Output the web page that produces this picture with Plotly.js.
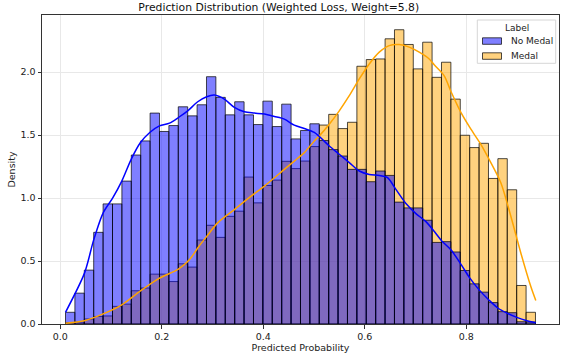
<!DOCTYPE html>
<html><head><meta charset="utf-8">
<script src="https://cdn.plot.ly/plotly-3.0.1.min.js"></script>
<style>html,body{margin:0;padding:0;background:#fff}#chart{width:564px;height:360px}</style>
</head><body><div id="chart"></div>
<script>
// Histogram bins (50 bins)
const binStart = 0.0104;
const binWidth = 0.018519;

const noMedalDensity = [0.093,0.245,0.428,0.728,0.954,0.954,1.135,1.342,1.454,1.675,
  1.529,1.576,1.725,1.653,1.741,1.964,1.800,1.661,1.765,1.661,
  1.584,1.770,1.568,1.746,1.470,1.537,1.590,1.457,1.385,1.334,
  1.228,1.228,1.130,1.215,1.180,0.968,0.922,0.922,0.824,0.648,
  0.654,0.572,0.425,0.319,0.253,0.170,0.098,0.090,0.018,0.016];

const medalDensity = [0.010,0.015,0.040,0.060,0.064,0.140,0.158,0.264,0.286,0.396,
  0.396,0.337,0.478,0.452,0.667,0.784,0.688,0.855,0.896,1.167,
  0.962,1.100,1.143,1.292,1.234,1.294,1.409,1.580,1.665,1.552,
  1.602,2.047,2.100,2.105,2.265,2.337,2.220,2.026,2.238,1.959,
  2.079,1.786,1.499,1.401,1.435,1.156,1.313,1.066,0.306,0.093];

const noMedalKdeX = [0.0104,0.0478,0.0661,0.0846,0.1035,0.1213,0.1398,0.1581,0.1764,0.1955,
  0.2152,0.2329,0.2512,0.2709,0.2886,0.3037,0.3234,0.3431,0.3628,0.3825,
  0.4022,0.4219,0.4415,0.4612,0.4809,0.5006,0.5301,0.5498,0.5695,0.5892,
  0.6089,0.6286,0.6443,0.6614,0.6811,0.7008,0.7205,0.7368,0.7512,0.7697,
  0.7880,0.8071,0.8254,0.8445,0.8628,0.8811,0.8996,0.9179,0.9370];
const noMedalKdeY = [0.093,0.404,0.670,0.883,1.002,1.135,1.308,1.441,1.521,1.573,
  1.595,1.640,1.693,1.765,1.805,1.818,1.786,1.720,1.685,1.675,
  1.667,1.648,1.627,1.579,1.553,1.521,1.414,1.348,1.282,1.215,
  1.188,1.180,1.164,1.069,0.957,0.877,0.813,0.736,0.662,0.590,
  0.484,0.364,0.271,0.191,0.125,0.085,0.053,0.028,0.010];

const medalKdeX = [0.0104,0.0478,0.0846,0.1213,0.1581,0.1955,0.2329,0.2545,0.2709,0.2886,
  0.3102,0.3431,0.3760,0.4022,0.4415,0.4612,0.4809,0.5006,0.5104,0.5301,
  0.5498,0.5695,0.5892,0.6089,0.6286,0.6482,0.6679,0.6876,0.7073,0.7270,
  0.7368,0.7565,0.7703,0.7894,0.8091,0.8287,0.8484,0.8681,0.8878,0.9075,
  0.9272,0.9370];
const medalKdeY = [0.006,0.026,0.080,0.152,0.263,0.364,0.436,0.510,0.604,0.696,
  0.803,0.909,1.015,1.095,1.228,1.294,1.361,1.454,1.494,1.587,
  1.693,1.813,1.946,2.065,2.159,2.211,2.219,2.199,2.159,2.105,
  2.058,1.971,1.842,1.680,1.547,1.427,1.282,1.122,0.856,0.564,
  0.297,0.186];

const seriesNames = ['No Medal', 'Medal'];
const legendTitle = 'Label';
const xTickVals = [0.0, 0.2, 0.4, 0.6, 0.8];
const xTickText = ['0.0', '0.2', '0.4', '0.6', '0.8'];
const yTickVals = [0.0, 0.5, 1.0, 1.5, 2.0];
const yTickText = ['0.0', '0.5', '1.0', '1.5', '2.0'];

const binCenters = noMedalDensity.map((_, i) => binStart + binWidth * (i + 0.5));

const font = 'DejaVu Sans, sans-serif';
const blueFill = 'rgba(0,0,255,0.5)';
const orangeFill = 'rgba(255,165,0,0.5)';
const edge = 'rgba(0,0,0,0.7)';

const traces = [
  {type: 'bar', x: binCenters, y: medalDensity, width: binWidth, name: seriesNames[1],
   showlegend: false,
   marker: {color: orangeFill, line: {color: edge, width: 1}}},
  {type: 'bar', x: binCenters, y: noMedalDensity, width: binWidth, name: seriesNames[0],
   showlegend: false,
   marker: {color: blueFill, line: {color: edge, width: 1}}},
  {type: 'scatter', mode: 'lines', x: medalKdeX, y: medalKdeY, showlegend: false,
   line: {color: 'orange', width: 1.5, shape: 'spline', smoothing: 0.8}},
  {type: 'scatter', mode: 'lines', x: noMedalKdeX, y: noMedalKdeY, showlegend: false,
   line: {color: 'blue', width: 1.5, shape: 'spline', smoothing: 0.8}}
];

// Custom legend (matplotlib-like), placed in paper coordinates
const L = 42, R = 559, T = 15, B = 324;
const px = v => (v - L) / (R - L);
const py = v => (B - v) / (B - T);

const shapes = [
  {type: 'rect', xref: 'paper', yref: 'paper', x0: px(477.3), x1: px(555.7), y0: py(63.3), y1: py(20),
   fillcolor: 'rgba(255,255,255,0.85)', line: {color: '#d6d6d6', width: 1}},
  {type: 'rect', xref: 'paper', yref: 'paper', x0: px(482.5), x1: px(501.5), y0: py(44.3), y1: py(37.8),
   fillcolor: blueFill, line: {color: edge, width: 1}},
  {type: 'rect', xref: 'paper', yref: 'paper', x0: px(482.5), x1: px(501.5), y0: py(59.3), y1: py(52.8),
   fillcolor: orangeFill, line: {color: edge, width: 1}}
];
const annotations = [
  {xref: 'paper', yref: 'paper', x: px(517.3), y: py(28), text: legendTitle, showarrow: false,
   xanchor: 'center', yanchor: 'middle', font: {family: font, size: 9, color: '#222'}},
  {xref: 'paper', yref: 'paper', x: px(508.5), y: py(41), text: seriesNames[0], showarrow: false,
   xanchor: 'left', yanchor: 'middle', font: {family: font, size: 9, color: '#222'}},
  {xref: 'paper', yref: 'paper', x: px(508.5), y: py(56), text: seriesNames[1], showarrow: false,
   xanchor: 'left', yanchor: 'middle', font: {family: font, size: 9, color: '#222'}}
];

const layout = {
  width: 564, height: 360,
  margin: {l: L, r: 564 - R, t: T, b: 360 - B},
  paper_bgcolor: '#fff', plot_bgcolor: '#fff',
  barmode: 'overlay', bargap: 0,
  showlegend: false,
  font: {family: font, size: 9.5, color: '#222'},
  title: {text: 'Prediction Distribution (Weighted Loss, Weight=5.8)',
    font: {family: font, size: 10.8, color: '#111'},
    x: 0.458, xref: 'paper', xanchor: 'center', y: 0.991, yref: 'container', yanchor: 'top'},
  xaxis: {range: [-0.0359, 0.9827], tickvals: xTickVals, ticktext: xTickText,
    ticks: 'outside', ticklen: 3.5, tickcolor: '#333', showline: true, mirror: true,
    linecolor: '#333', linewidth: 1, showgrid: true, gridcolor: '#e8e8e8', zeroline: false,
    tickfont: {size: 9.5},
    title: {text: 'Predicted Probability', font: {size: 9.5}, standoff: 2}},
  yaxis: {range: [0, 2.454], tickvals: yTickVals, ticktext: yTickText,
    ticks: 'outside', ticklen: 3.5, tickcolor: '#333', showline: true, mirror: true,
    linecolor: '#333', linewidth: 1, showgrid: true, gridcolor: '#e8e8e8', zeroline: false,
    tickfont: {size: 9.5},
    title: {text: 'Density', font: {size: 9.5}, standoff: 3}},
  shapes: shapes,
  annotations: annotations
};

Plotly.newPlot('chart', traces, layout, {staticPlot: true, displayModeBar: false});
</script>
</body></html>
